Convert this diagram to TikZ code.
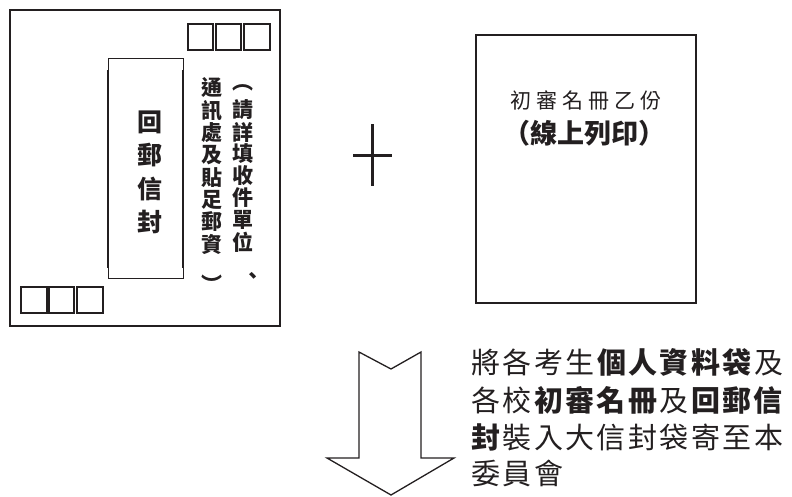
\documentclass[tikz,border=0pt]{standalone}
\usepackage{fontspec}
\newfontfamily\cjk{Noto Sans CJK TC}
\definecolor{ink}{HTML}{231F20}
\newcommand\cc[1]{\makebox[31.4pt][c]{#1}}
\newcommand\cb[1]{\makebox[31.4pt][c]{\bfseries #1}}
\begin{document}
\begin{tikzpicture}[x=1pt,y=-1pt,
  frame/.style={draw=ink, line width=1.3pt},
  stamp/.style={draw=ink, line width=1.4pt},
  side/.style={draw=ink, line width=2.2pt},
  vch/.style={font={\cjk\bfseries\fontsize{21}{21}\selectfont}, inner sep=0pt, text=ink},
  bigch/.style={font={\cjk\bfseries\fontsize{25}{25}\selectfont}, inner sep=0pt, text=ink},
  noteline/.style={font={\cjk\fontsize{29}{29}\selectfont}, inner sep=0pt, anchor=west, text=ink},
  arrowshape/.style={draw=ink, line width=1.3pt, line join=miter}]
\useasboundingbox (0,0) rectangle (792,496);
% envelope
\draw[frame] (10,10) rectangle (280,326);
\draw[stamp] (188,24) rectangle (213,50);
\draw[stamp] (216,24) rectangle (241,50);
\draw[stamp] (244,24) rectangle (270,50);
\draw[stamp] (21,287) rectangle (47,313);
\draw[stamp] (49,287) rectangle (74,313);
\draw[stamp] (77,287) rectangle (103,313);
% inner return-envelope box
\draw[draw=ink, line width=1pt] (108,58) rectangle (183,278);
\draw[side] (108,70) -- (108,268);
\draw[side] (183,70) -- (183,268);
\foreach \c [count=\i from 0] in {回,郵,信,封}
  \node[bigch] (b\i) at (150,122+33.3*\i) {\c};
% right column
\node[vch] (rp) at (243,88) {︵};
\foreach \c [count=\i from 0] in {請,詳,填,收,件,單,位}
  \node[vch] (r\i) at (243,110+22*\i) {\c};
\node[vch] (rc) at (253,278) {、};
% left column
\foreach \c [count=\i from 0] in {通,訊,處,及,貼,足,郵,資}
  \node[vch] (l\i) at (212,88+22.3*\i) {\c};
\node[vch] (lp) at (212,284) {︶};
% plus
\draw[ink, line width=3pt] (372,124) -- (372,186);
\draw[ink, line width=3pt] (353,155) -- (392,155);
% list box
\draw[frame] (476,35) rectangle (696,303);
\node[font={\cjk\fontsize{21}{21}\selectfont}, inner sep=0pt, text=ink] (t1) at (586,100)
  {\makebox[26pt]{初}\makebox[26pt]{審}\makebox[26pt]{名}\makebox[26pt]{冊}\makebox[26pt]{乙}\makebox[26pt]{份}};
\node[font={\cjk\bfseries\fontsize{27}{27}\selectfont}, inner sep=0pt, text=ink] (t2) at (584,133)
  {（線上列印）};
% arrow
\draw[arrowshape] (359,352) -- (391,369) -- (421,352) -- (421,458) -- (454,458)
  -- (391,495) -- (327,458) -- (359,458) -- cycle;
% note
\node[noteline] (n1) at (470,362) {\cc{將}\cc{各}\cc{考}\cc{生}\cb{個}\cb{人}\cb{資}\cb{料}\cb{袋}\cc{及}};
\node[noteline] (n2) at (470,400) {\cc{各}\cc{校}\cb{初}\cb{審}\cb{名}\cb{冊}\cc{及}\cb{回}\cb{郵}\cb{信}};
\node[noteline] (n3) at (470,437) {\cb{封}\cc{裝}\cc{入}\cc{大}\cc{信}\cc{封}\cc{袋}\cc{寄}\cc{至}\cc{本}};
\node[noteline] (n4) at (470,473) {\cc{委}\cc{員}\cc{會}};
\end{tikzpicture}
\end{document}
